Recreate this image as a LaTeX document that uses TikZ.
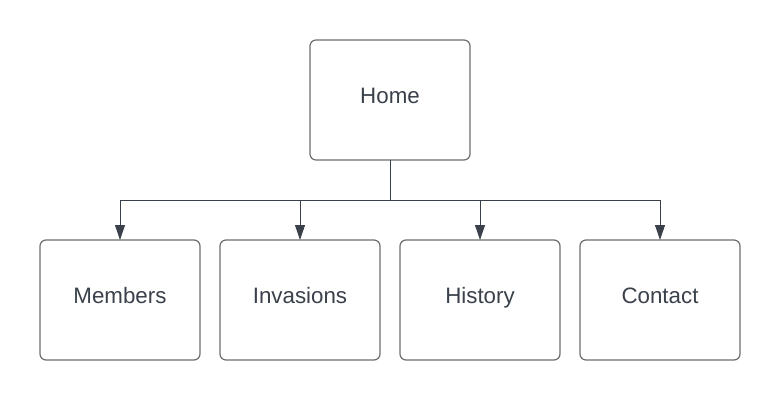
\documentclass[tikz,border=0pt]{standalone}
\usepackage{fontspec}
\setmainfont{Liberation Sans}
\usetikzlibrary{positioning}
\usetikzlibrary{arrows.meta}
\definecolor{boxline}{HTML}{6E6E6E}
\definecolor{ink}{HTML}{3A414A}
\tikzset{
    % Pages of the site map
    page/.style={
        draw=boxline, line width=0.7pt, rounded corners=1.2mm, fill=white,
        minimum width=3.2cm, minimum height=2.4cm, inner sep=0, outer sep=0,
        text height=0.65em, text depth=0.2em,
        text=ink, font=\fontsize{12.7}{15}\selectfont},
%
    % Links from the home page down to each page
    link/.style={draw=ink, line width=0.5pt,
        -{Triangle[width=2mm, length=3mm]}}}

\begin{document}
\begin{tikzpicture}
\useasboundingbox (0,0) rectangle (15.6,-8);

% Top of the tree
\node[page] (home) at (7.8,-2) {Home};

% One row of pages below it
\node[page] (members) at (2.4,-6) {Members};
\node[page, right=4mm of members] (invasions) {Invasions};
\node[page, right=4mm of invasions] (history) {History};
\node[page, right=4mm of history] (contact) {Contact};

\coordinate[below=8mm of home.south] (split);

\foreach \target in {members, invasions, history, contact}
    \draw[link] (home.south) -- (split) -| (\target.north);

\end{tikzpicture}
\end{document}
